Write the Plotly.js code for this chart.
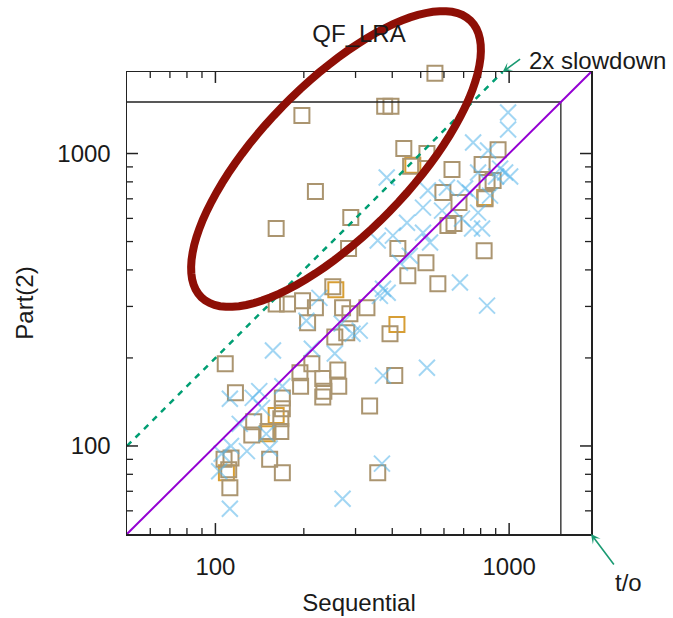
<!DOCTYPE html>
<html>
<head>
<meta charset="utf-8">
<script src="https://cdn.plot.ly/plotly-3.0.1.min.js"></script>
<style>html,body{margin:0;padding:0;background:#fff;}#chart{width:673px;height:618px;}</style>
</head>
<body>
<div id="chart"></div>
<script>
// ---- data (seconds) ----
const squareX = [559,377,396,197,438,525,917,809,639,882,841,219,595,828,675,289,619,649,161,418,284,822,521,452,572,161,176,198,219,206,271,287,328,255,280,393,108,213,194,195,232,261,263,234,232,408,117,169,169,167,135,133,167,335,107,113,112,153,169,357,462,251,151,111];
const squareY = [1880,1450,1450,1350,1040,1000,1030,917,882,808,796,741,735,701,680,604,567,576,554,473,473,465,423,382,359,306,306,314,297,264,297,283,297,236,244,242,191,191,178,160,170,182,160,154,147,174,152,146,134,124,121,109,112,137,90,91,72,90,81,81,905,350,112,83];
const orangeX = [470,257,415,161,150,109,826];
const orangeY = [912,342,260,127,110,81,708];
const crossX = [992,992,754,848,932,969,1008,903,383,529,614,708,736,861,509,591,784,691,449,748,809,509,357,538,459,425,680,372,386,363,841,525,372,369,204,226,269,293,310,157,213,255,141,134,112,169,144,121,149,128,113,105,153,103,112,271,784,402];
const crossY = [1382,1208,1091,1024,888,861,834,834,828,747,765,759,735,718,653,638,628,599,580,554,554,536,504,496,447,423,362,345,334,326,302,185,174,87,268,321,262,242,248,212,215,207,154,146,145,160,135,119,110,96,100,94,98,82,61,66,861,524];

const axisMin = 50, axisMax = 1900, timeout = 1500;
const majorTicks = [100, 1000];
const majorLabels = ['100', '1000'];
const minorTicks = [60,70,80,90,200,300,400,500,600,700,800,900];

const FONT = 'Liberation Sans, Arial, Helvetica, sans-serif';
const lg = Math.log10;

// ---- page geometry ----
const L = 127, R = 591, T = 72, B = 534;
const pxPerDecade = (R - L) / lg(axisMax / axisMin);

// hand-drawn highlight ellipse (pixel space of the page -> paper coords)
function ellipsePath(cx, cy, a, b, thetaDeg) {
  const th = thetaDeg * Math.PI / 180;
  let d = '';
  for (let i = 0; i <= 96; i++) {
    const t = i / 96 * 2 * Math.PI;
    const ex = a * Math.cos(t), ey = b * Math.sin(t);
    const px = cx + ex * Math.cos(th) - ey * Math.sin(th);
    const py = cy - (ex * Math.sin(th) + ey * Math.cos(th));
    const xp = (px - L) / (R - L), yp = (B - py) / (B - T);
    d += (i === 0 ? 'M' : 'L') + xp.toFixed(4) + ',' + yp.toFixed(4);
  }
  return d + 'Z';
}

// gnuplot-style inside ticks on all four sides, as line segments in data space
function tickTrace(vals, lenPx, width) {
  const f = Math.pow(10, lenPx / pxPerDecade);
  const x = [], y = [];
  vals.forEach(v => {
    x.push(v, v, null, v, v, null, axisMin, axisMin * f, null, axisMax, axisMax / f, null);
    y.push(axisMin, axisMin * f, null, axisMax, axisMax / f, null, v, v, null, v, v, null);
  });
  return {x, y, type: 'scatter', mode: 'lines', line: {color: '#222', width: width},
          hoverinfo: 'skip', connectgaps: false};
}

const traces = [
  {x: orangeX, y: orangeY, type: 'scatter', mode: 'markers', cliponaxis: false,
   marker: {symbol: 'square-open', size: 15, color: '#d79e35', line: {width: 2, color: '#d79e35'}}, hoverinfo: 'skip'},
  {x: squareX, y: squareY, type: 'scatter', mode: 'markers', cliponaxis: false,
   marker: {symbol: 'square-open', size: 15, color: '#ab9570', line: {width: 2, color: '#ab9570'}}, hoverinfo: 'skip'},
  {x: crossX, y: crossY, type: 'scatter', mode: 'markers', cliponaxis: false,
   marker: {symbol: 'x-thin', size: 16, color: 'rgba(86,180,233,0.55)', line: {width: 2, color: 'rgba(86,180,233,0.55)'}}, hoverinfo: 'skip'},
  {x: [axisMin, timeout, timeout], y: [timeout, timeout, axisMin], type: 'scatter', mode: 'lines',
   line: {color: '#222', width: 1.3}, hoverinfo: 'skip'},
  {x: [axisMin, axisMax], y: [axisMin, axisMax], type: 'scatter', mode: 'lines',
   line: {color: '#9400d3', width: 2}, hoverinfo: 'skip'},
  {x: [axisMin, axisMax / 2], y: [axisMin * 2, axisMax], type: 'scatter', mode: 'lines',
   line: {color: '#009e73', width: 2.5, dash: '6px,6px'}, hoverinfo: 'skip'},
  tickTrace(majorTicks, 11, 1.5),
  tickTrace(minorTicks, 6, 1.3)
];

const axisCommon = {
  type: 'log',
  range: [lg(axisMin), lg(axisMax)],
  showline: true, linecolor: '#222', linewidth: 1.5, mirror: true,
  showgrid: false, zeroline: false,
  ticks: '',
  tickmode: 'array', tickvals: majorTicks, ticktext: majorLabels,
  tickfont: {family: FONT, size: 24, color: '#1a1a1a'}
};

const layout = {
  width: 673, height: 618,
  margin: {l: L, r: 673 - R, t: T, b: 618 - B, pad: 0},
  paper_bgcolor: '#fff', plot_bgcolor: '#fff',
  showlegend: false,
  font: {family: FONT, color: '#1a1a1a'},
  title: {text: 'QF_LRA', font: {family: FONT, size: 24, color: '#1a1a1a'},
          xref: 'paper', x: 0.5, xanchor: 'center', yref: 'container', y: 1 - 34 / 618, yanchor: 'middle'},
  xaxis: Object.assign({}, axisCommon, {
    ticklabelstandoff: 11,
    title: {text: 'Sequential', font: {family: FONT, size: 24, color: '#1a1a1a'}, standoff: 15}
  }),
  yaxis: Object.assign({}, axisCommon, {
    ticklabelstandoff: 10,
    title: {text: 'Part(2)', font: {family: FONT, size: 24, color: '#1a1a1a'}, standoff: 17}
  }),
  shapes: [
    {type: 'path', xref: 'paper', yref: 'paper', layer: 'above',
     path: ellipsePath(336, 159, 193, 75, 45.8),
     line: {color: '#8e0f06', width: 8}, fillcolor: 'rgba(0,0,0,0)'}
  ],
  annotations: [
    {x: lg(axisMax / 2), y: lg(axisMax), xref: 'x', yref: 'y', text: '', showarrow: true,
     ax: 19, ay: -14, arrowcolor: '#1a9a72', arrowwidth: 1.6, arrowhead: 3, arrowsize: 1},
    {x: (527 - L) / (R - L), y: (B - 60) / (B - T), xref: 'paper', yref: 'paper', text: '2x slowdown',
     showarrow: false, xanchor: 'left', yanchor: 'middle', font: {family: FONT, size: 24, color: '#1a1a1a'}},
    {x: lg(axisMax), y: lg(axisMin), xref: 'x', yref: 'y', text: '', showarrow: true,
     ax: 24, ay: 32, arrowcolor: '#1a9a72', arrowwidth: 1.6, arrowhead: 3, arrowsize: 1},
    {x: (628 - L) / (R - L), y: (B - 582) / (B - T), xref: 'paper', yref: 'paper', text: 't/o',
     showarrow: false, xanchor: 'center', yanchor: 'middle', font: {family: FONT, size: 24, color: '#1a1a1a'}}
  ]
};

Plotly.newPlot('chart', traces, layout, {displayModeBar: false, staticPlot: true});
</script>
</body>
</html>
